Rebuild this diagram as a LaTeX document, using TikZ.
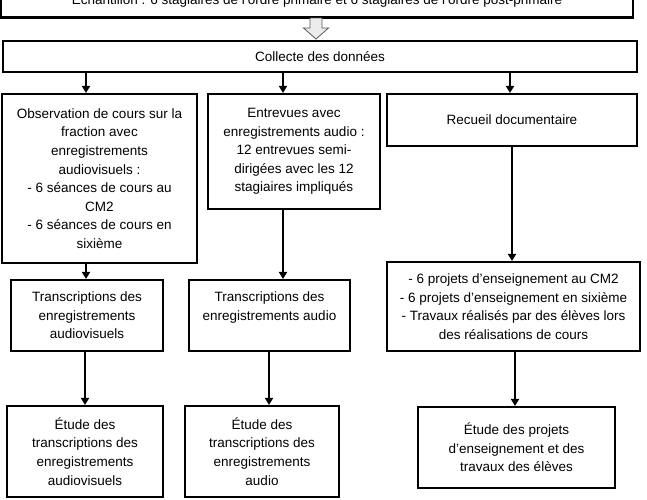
\documentclass[tikz,border=0pt]{standalone}
\usepackage{fontspec}
\setmainfont{Liberation Sans}
\usetikzlibrary{arrows.meta}
\begin{document}
\begin{tikzpicture}[x=1pt,y=-1pt,
  box/.style={draw=black, line width=2.1pt, rectangle, inner sep=0pt, align=center,
    font=\fontsize{13.5}{18.6}\selectfont, text=black},
  arr/.style={line width=2.2pt, -{Triangle[length=7pt,width=8pt]}},
  blockarrow/.style={fill=gray!15, draw=gray!70!black, line width=0.8pt, line join=miter}]
\clip (0,0) rectangle (647,499);
\fill[white] (0,0) rectangle (647,499);

% top box (cut off by the page edge, as in the reference)
\node[box, minimum width=632pt, minimum height=33pt, text height=10pt, text depth=3pt]
  (top) at (317,1) {Échantillon : 6 stagiaires de l’ordre primaire et 6 stagiaires de l’ordre post-primaire};

\node[box, minimum width=634pt, minimum height=31pt] (coll) at (320,56.5) {Collecte des données};

% hollow block arrow between top and coll
\draw[blockarrow] (310,18) -- (322,18) -- (322,28) -- (328.5,28) -- (316,39) -- (303.5,28) -- (310,28) -- cycle;

\node[box, minimum width=195pt, minimum height=169pt] (A) at (99.5,178.5)
  {Observation de cours sur la\\fraction avec\\enregistrements\\audiovisuels :\\- 6 séances de cours au\\CM2\\- 6 séances de cours en\\sixième};
\node[box, minimum width=172pt, minimum height=115pt] (B) at (294,151.5)
  {Entrevues avec\\enregistrements audio :\\12 entrevues semi-\\dirigées avec les 12\\stagiaires impliqués};
\node[box, minimum width=250pt, minimum height=52pt] (C) at (512,120) {Recueil documentaire};

\node[box, minimum width=152pt, minimum height=71pt] (T1) at (87,315.5)
  {Transcriptions des\\enregistrements\\audiovisuels};
\node[box, minimum width=161pt, minimum height=71pt] (T2) at (269.5,315.5)
  {Transcriptions des\\enregistrements audio\\\mbox{}};
\node[box, minimum width=253pt, minimum height=89pt] (C2) at (513.5,306.5)
  {- 6 projets d’enseignement au CM2\\- 6 projets d’enseignement en sixième\\- Travaux réalisés par des élèves lors\\des réalisations de cours};

\node[box, minimum width=156pt, minimum height=91pt] (E1) at (85,451.5)
  {Étude des\\transcriptions des\\enregistrements\\audiovisuels};
\node[box, minimum width=154pt, minimum height=91pt] (E2) at (262,451.5)
  {Étude des\\transcriptions des\\enregistrements\\audio};
\node[box, minimum width=197pt, minimum height=81pt] (E3) at (516.5,447.5)
  {Étude des projets\\d’enseignement et des\\travaux des élèves};

% x positions of the connectors
\coordinate (xa) at (86,0);
\coordinate (xb) at (283,0);
\coordinate (xc) at (510,0);
\coordinate (xc2) at (512,0);
\coordinate (xe1) at (85,0);
\coordinate (xe2) at (269,0);
\coordinate (xe3) at (515,0);

\draw[arr] (coll.south -| xa) -- (A.north -| xa);
\draw[arr] (coll.south -| xb) -- (B.north -| xb);
\draw[arr] (coll.south -| xc) -- (C.north -| xc);
\draw[arr] (A.south -| xa) -- (T1.north -| xa);
\draw[arr] (B.south -| xb) -- (T2.north -| xb);
\draw[arr] (C.south -| xc2) -- (C2.north -| xc2);
\draw[arr] (T1.south -| xe1) -- (E1.north -| xe1);
\draw[arr] (T2.south -| xe2) -- (E2.north -| xe2);
\draw[arr] (C2.south -| xe3) -- (E3.north -| xe3);
\end{tikzpicture}
\end{document}
